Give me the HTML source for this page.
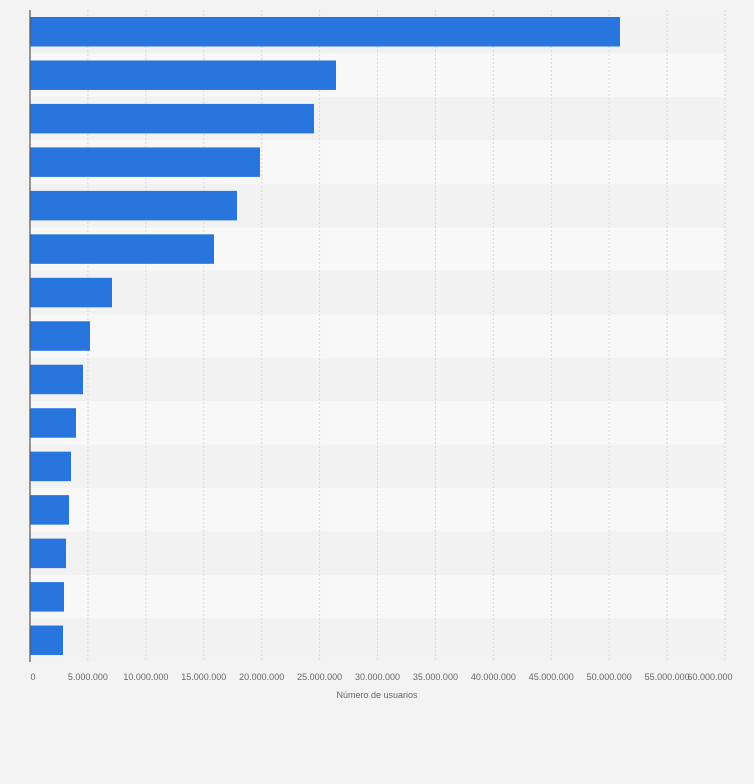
<!DOCTYPE html><html><head><style>body{margin:0;background:#f3f3f3;font-family:"Liberation Sans",sans-serif}</style></head><body>
<svg width="754" height="779" xmlns="http://www.w3.org/2000/svg" font-family="Liberation Sans, sans-serif">
<rect width="754" height="779" fill="#f3f3f3"/>
<g>
<rect x="30" y="10" width="695" height="43.47" fill="#f2f2f2"/>
<rect x="30" y="53.47" width="695" height="43.47" fill="#f8f8f8"/>
<rect x="30" y="96.93" width="695" height="43.47" fill="#f2f2f2"/>
<rect x="30" y="140.4" width="695" height="43.47" fill="#f8f8f8"/>
<rect x="30" y="183.87" width="695" height="43.47" fill="#f2f2f2"/>
<rect x="30" y="227.33" width="695" height="43.47" fill="#f8f8f8"/>
<rect x="30" y="270.8" width="695" height="43.47" fill="#f2f2f2"/>
<rect x="30" y="314.27" width="695" height="43.47" fill="#f8f8f8"/>
<rect x="30" y="357.73" width="695" height="43.47" fill="#f2f2f2"/>
<rect x="30" y="401.2" width="695" height="43.47" fill="#f8f8f8"/>
<rect x="30" y="444.67" width="695" height="43.47" fill="#f2f2f2"/>
<rect x="30" y="488.13" width="695" height="43.47" fill="#f8f8f8"/>
<rect x="30" y="531.6" width="695" height="43.47" fill="#f2f2f2"/>
<rect x="30" y="575.07" width="695" height="43.47" fill="#f8f8f8"/>
<rect x="30" y="618.53" width="695" height="43.47" fill="#f2f2f2"/>
</g>
<g stroke="#d8d8d8" stroke-dasharray="2,2">
<line x1="87.92" y1="10" x2="87.92" y2="662"/><line x1="145.84" y1="10" x2="145.84" y2="662"/><line x1="203.76" y1="10" x2="203.76" y2="662"/><line x1="261.68" y1="10" x2="261.68" y2="662"/><line x1="319.6" y1="10" x2="319.6" y2="662"/><line x1="377.52" y1="10" x2="377.52" y2="662"/><line x1="435.44" y1="10" x2="435.44" y2="662"/><line x1="493.36" y1="10" x2="493.36" y2="662"/><line x1="551.28" y1="10" x2="551.28" y2="662"/><line x1="609.2" y1="10" x2="609.2" y2="662"/><line x1="667.12" y1="10" x2="667.12" y2="662"/><line x1="725.04" y1="10" x2="725.04" y2="662"/>
</g>
<g fill="#2876dd">
<rect x="30" y="17" width="590" height="29.5"/>
<rect x="30" y="60.47" width="306" height="29.5"/>
<rect x="30" y="103.93" width="284" height="29.5"/>
<rect x="30" y="147.4" width="230" height="29.5"/>
<rect x="30" y="190.87" width="207" height="29.5"/>
<rect x="30" y="234.33" width="184" height="29.5"/>
<rect x="30" y="277.8" width="82" height="29.5"/>
<rect x="30" y="321.27" width="60" height="29.5"/>
<rect x="30" y="364.73" width="53" height="29.5"/>
<rect x="30" y="408.2" width="46" height="29.5"/>
<rect x="30" y="451.67" width="41" height="29.5"/>
<rect x="30" y="495.13" width="39" height="29.5"/>
<rect x="30" y="538.6" width="36" height="29.5"/>
<rect x="30" y="582.07" width="34" height="29.5"/>
<rect x="30" y="625.53" width="33" height="29.5"/>
</g>
<line x1="30" y1="10" x2="30" y2="662" stroke="#555" stroke-width="1.2"/>
<g font-size="9" fill="#666" text-anchor="middle">
<text x="33" y="680">0</text><text x="87.92" y="680">5.000.000</text><text x="145.84" y="680">10.000.000</text><text x="203.76" y="680">15.000.000</text><text x="261.68" y="680">20.000.000</text><text x="319.6" y="680">25.000.000</text><text x="377.52" y="680">30.000.000</text><text x="435.44" y="680">35.000.000</text><text x="493.36" y="680">40.000.000</text><text x="551.28" y="680">45.000.000</text><text x="609.2" y="680">50.000.000</text><text x="667.12" y="680">55.000.000</text><text x="710" y="680">60.000.000</text>
<text x="377" y="698">Número de usuarios</text>
</g>
</svg></body></html>
